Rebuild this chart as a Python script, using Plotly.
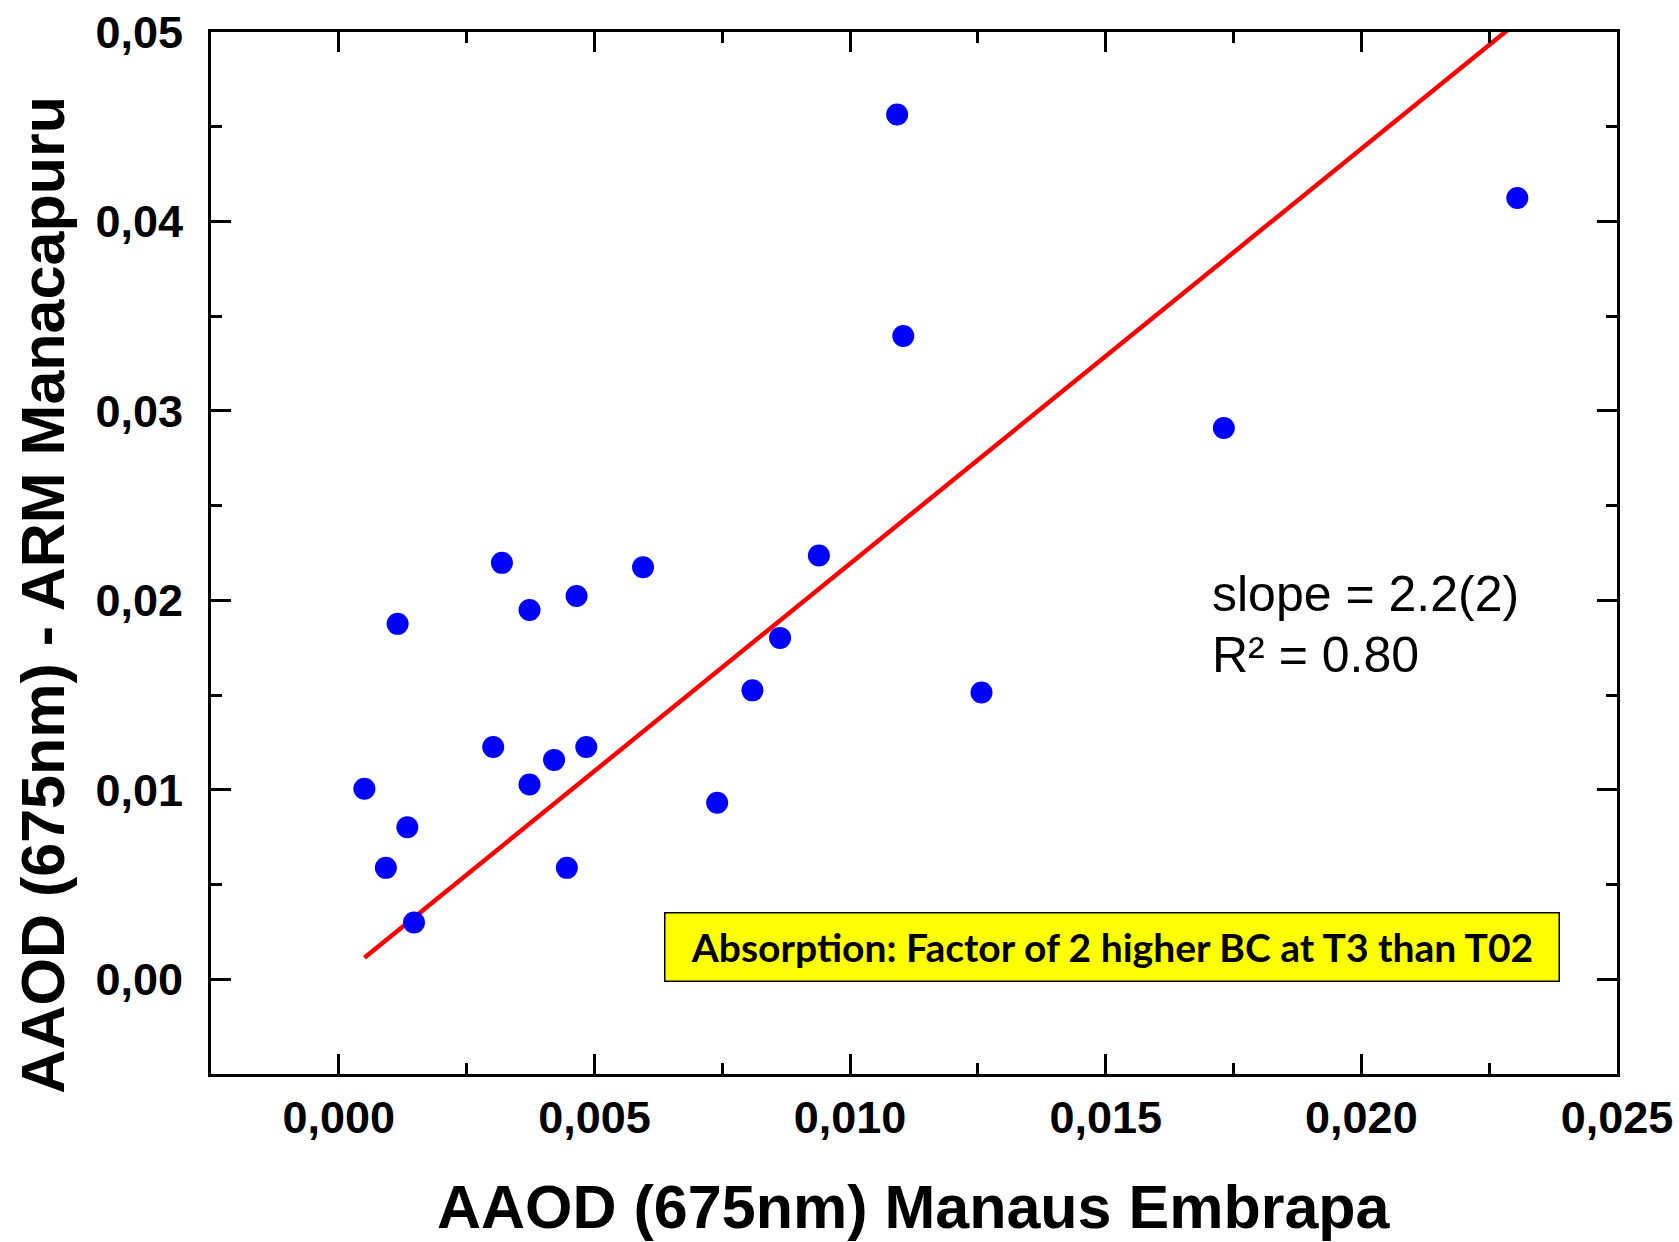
import plotly.graph_objects as go

# Data
x_embrapa = [0.01092, 0.02305, 0.01104, 0.01731, 0.00939, 0.00595, 0.00319, 0.00465,
             0.00373, 0.00115, 0.00863, 0.00809, 0.01257, 0.00302, 0.00484, 0.00421,
             0.00373, 0.00050, 0.00740, 0.00134, 0.00092, 0.00446, 0.00147]
y_manacapuru = [0.04565, 0.04124, 0.03395, 0.02910, 0.02237, 0.02175, 0.02198, 0.02023,
                0.01949, 0.01876, 0.01802, 0.01525, 0.01514, 0.01226, 0.01226, 0.01158,
                0.01028, 0.01006, 0.00932, 0.00802, 0.00588, 0.00588, 0.00300]

fit_slope = 2.19
fit_intercept = 0.00004

x_ticks = [0.000, 0.005, 0.010, 0.015, 0.020, 0.025]
y_ticks = [0.00, 0.01, 0.02, 0.03, 0.04, 0.05]

fit_x = [min(x_embrapa), max(x_embrapa)]
fit_y = [fit_intercept + fit_slope * v for v in fit_x]

fig = go.Figure()
fig.add_trace(go.Scatter(x=fit_x, y=fit_y, mode="lines",
                         line=dict(color="#ff0000", width=4.5), showlegend=False))
fig.add_trace(go.Scatter(x=x_embrapa, y=y_manacapuru, mode="markers",
                         marker=dict(color="#0000ff", size=22, line=dict(width=0)),
                         showlegend=False))

tickfont = dict(family="Liberation Sans, Arial, sans-serif",
                size=45, color="black", weight="bold")
titlefont = dict(family="Liberation Sans, Arial, sans-serif", size=61, color="black", weight="bold")

fig.update_layout(
    width=1679, height=1242,
    margin=dict(l=211, r=62, t=32, b=168, autoexpand=False),
    paper_bgcolor="white", plot_bgcolor="white",
    separators=",.",
    xaxis=dict(range=[-0.0025, 0.025], tickvals=x_ticks, tickformat=".3f",
               ticks="inside", ticklen=20, tickwidth=2.5, tickcolor="black",
               showline=True, linecolor="black", linewidth=3, mirror="allticks",
               showgrid=False, zeroline=False, tickfont=tickfont, ticklabelstandoff=2,
               minor=dict(ticks="inside", ticklen=11, tickwidth=2.5, tickcolor="black",
                          dtick=0.0025, tick0=0, showgrid=False)),
    yaxis=dict(range=[-0.005, 0.05], tickvals=y_ticks, tickformat=".2f",
               ticks="inside", ticklen=20, tickwidth=2.5, tickcolor="black",
               showline=True, linecolor="black", linewidth=3, mirror="allticks",
               showgrid=False, zeroline=False, tickfont=tickfont, ticklabelstandoff=16,
               minor=dict(ticks="inside", ticklen=11, tickwidth=2.5, tickcolor="black",
                          dtick=0.005, tick0=0, showgrid=False)),
)

fig.add_annotation(text="AAOD (675nm) Manaus Embrapa", xref="paper", yref="paper",
                   x=0.5, y=-0.1276, xanchor="center", yanchor="middle",
                   showarrow=False, font=titlefont)
fig.add_annotation(text="AAOD (675nm) - ARM Manacapuru", xref="paper", yref="paper",
                   x=-0.1195, y=0.46, xanchor="center", yanchor="middle", textangle=-90,
                   showarrow=False, font=titlefont)

statfont = dict(family="Liberation Sans, Arial, sans-serif", size=50, color="black")
fig.add_annotation(text="slope = 2.2(2)", x=0.01704, y=0.02034, xanchor="left", yanchor="middle",
                   showarrow=False, font=statfont)
fig.add_annotation(text="R² = 0.80", x=0.01704, y=0.01712, xanchor="left", yanchor="middle",
                   showarrow=False, font=statfont)

fig.add_annotation(text="Absorption: Factor of 2 higher BC at T3 than T02",
                   x=0.01512, y=0.0017, xanchor="center", yanchor="middle",
                   showarrow=False, bgcolor="#ffff00", bordercolor="black", borderwidth=1.5,
                   width=893, height=67, borderpad=0, align="center", valign="middle",
                   font=dict(family="Lato, sans-serif", size=39, color="black", weight="bold"))

fig.write_html("out.html")
